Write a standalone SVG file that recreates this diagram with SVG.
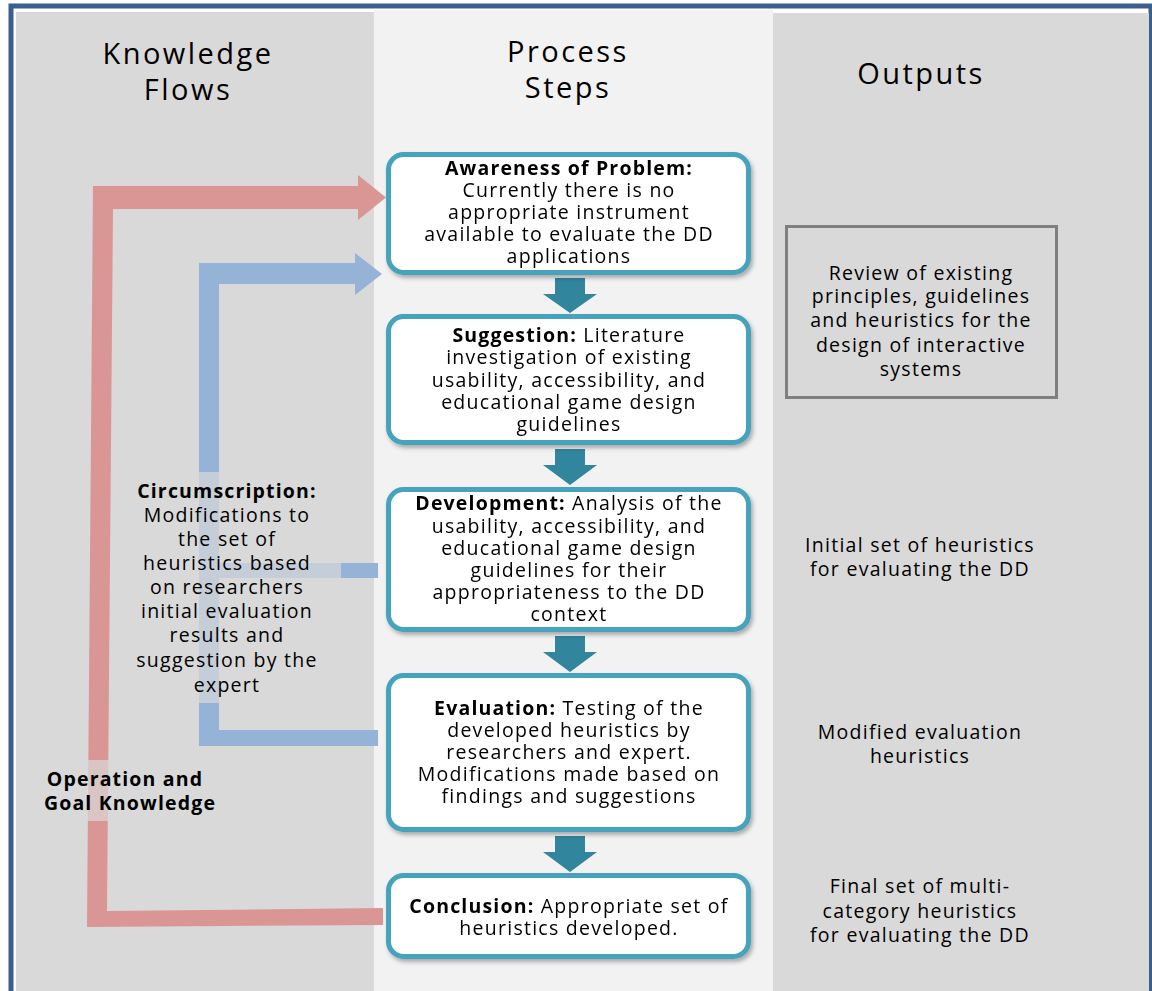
<svg xmlns="http://www.w3.org/2000/svg" width="1152" height="991" viewBox="0 0 1152 991">
<defs>
<filter id="sh" x="-10%" y="-10%" width="130%" height="130%">
<feDropShadow dx="2" dy="3" stdDeviation="2" flood-color="#000" flood-opacity="0.3"/>
</filter>
<style>
.t{font-family:"Open Sans","DejaVu Sans",sans-serif;font-size:19.5px;letter-spacing:0.065em;fill:#000;text-anchor:middle}
.h{font-family:"Open Sans","DejaVu Sans",sans-serif;font-size:29px;letter-spacing:0.085em;fill:#000;text-anchor:middle}
.b{font-weight:bold;letter-spacing:0.06em}
.box{fill:#fff;stroke:#46a3bb;stroke-width:5}
.darr{fill:#31859c}
.red{fill:#d99694}
.blue{fill:#95b3d7}
.veil{fill:#d9d9d9;opacity:0.7}
</style>
</defs>
<rect x="0" y="0" width="1152" height="991" fill="#fff"/>
<rect x="11" y="6" width="1140" height="1000" fill="#fff" stroke="#3b5f8f" stroke-width="5"/>
<rect x="16" y="12" width="358" height="979" fill="#d9d9d9"/>
<rect x="374" y="10" width="399" height="981" fill="#f2f2f2"/>
<rect x="773" y="13" width="376" height="978" fill="#d9d9d9"/>

<g id="headers">
<text class="h" x="188" y="64">Knowledge</text>
<text class="h" x="188" y="100">Flows</text>
<text class="h" x="568" y="62">Process</text>
<text class="h" x="568" y="98">Steps</text>
<text class="h" x="921" y="84">Outputs</text>
</g>

<g id="connectors">
<polygon class="red" points="93,186 358,186 358,175 386,197.5 358,220 358,209 113,209 107,911 383,908 383,925 87,927"/>
<polygon class="blue" points="199,263 355,263 355,253 382,274 355,295 355,284 219,284 219,730 378,730 378,746 199,746"/>
<rect class="blue" x="219" y="563" width="159" height="15"/>
<path class="darr" d="M555,278 h30 v16 h12 l-27,19 l-27,-19 h12 z"/>
<path class="darr" d="M555,449 h30 v16 h12 l-27,20 l-27,-20 h12 z"/>
<path class="darr" d="M555,636 h30 v16 h12 l-27,20 l-27,-20 h12 z"/>
<path class="darr" d="M555,836 h30 v16 h12 l-27,20 l-27,-20 h12 z"/>
</g>

<g id="circumscription">
<rect class="veil" x="130" y="472" width="211" height="231"/>
<text class="t" x="227" y="498"><tspan class="b">Circumscription:</tspan></text>
<text class="t" x="227" y="522">Modifications to</text>
<text class="t" x="227" y="546">the set  of</text>
<text class="t" x="227" y="570">heuristics based</text>
<text class="t" x="227" y="594">on researchers</text>
<text class="t" x="227" y="618">initial evaluation</text>
<text class="t" x="227" y="642">results and</text>
<text class="t" x="227" y="667">suggestion by the</text>
<text class="t" x="227" y="692">expert</text>
</g>

<g id="operation">
<rect class="veil" x="45" y="760" width="170" height="61"/>
<text class="t b" x="125" y="786">Operation and</text>
<text class="t b" x="130" y="810">Goal Knowledge</text>
</g>

<g id="awareness" filter="url(#sh)">
<rect class="box" x="388.5" y="154.5" width="360" height="118" rx="15"/>
<text class="t" x="569" y="175"><tspan class="b">Awareness of Problem:</tspan></text>
<text class="t" x="569" y="197">Currently there is no</text>
<text class="t" x="569" y="219">appropriate instrument</text>
<text class="t" x="569" y="241">available to evaluate the DD</text>
<text class="t" x="569" y="263">applications</text>
</g>

<g id="suggestion" filter="url(#sh)">
<rect class="box" x="388.5" y="316.5" width="360" height="126" rx="15"/>
<text class="t" x="569" y="342"><tspan class="b">Suggestion:</tspan> Literature</text>
<text class="t" x="569" y="364">investigation of existing</text>
<text class="t" x="569" y="387">usability, accessibility, and</text>
<text class="t" x="569" y="409">educational game design</text>
<text class="t" x="569" y="431">guidelines</text>
</g>

<g id="development" filter="url(#sh)">
<rect class="box" x="388.5" y="489.5" width="360" height="140" rx="15"/>
<text class="t" x="569" y="510"><tspan class="b">Development:</tspan> Analysis of the</text>
<text class="t" x="569" y="533">usability, accessibility, and</text>
<text class="t" x="569" y="555">educational game design</text>
<text class="t" x="569" y="577">guidelines for their</text>
<text class="t" x="569" y="599">appropriateness to the  DD</text>
<text class="t" x="569" y="621">context</text>
</g>

<g id="evaluation" filter="url(#sh)">
<rect class="box" x="388.5" y="675.5" width="360" height="154" rx="15"/>
<text class="t" x="569" y="715"><tspan class="b">Evaluation:</tspan> Testing of the</text>
<text class="t" x="569" y="737">developed heuristics by</text>
<text class="t" x="569" y="759">researchers and expert.</text>
<text class="t" x="569" y="781">Modifications made based on</text>
<text class="t" x="569" y="803">findings and suggestions</text>
</g>

<g id="conclusion" filter="url(#sh)">
<rect class="box" x="388.5" y="875.5" width="360" height="81" rx="15"/>
<text class="t" x="569" y="913"><tspan class="b">Conclusion:</tspan>  Appropriate set of</text>
<text class="t" x="569" y="935">heuristics developed.</text>
</g>

<g id="review">
<rect x="786.5" y="226.5" width="270" height="171" fill="none" stroke="#7f7f7f" stroke-width="3"/>
<text class="t" x="921" y="280">Review of existing</text>
<text class="t" x="921" y="303">principles, guidelines</text>
<text class="t" x="921" y="327">and heuristics for the</text>
<text class="t" x="921" y="352">design of interactive</text>
<text class="t" x="921" y="376">systems</text>
</g>

<g id="initial">
<text class="t" x="920" y="552">Initial set of heuristics</text>
<text class="t" x="920" y="576">for evaluating the DD</text>
</g>

<g id="modified">
<text class="t" x="920" y="739">Modified evaluation</text>
<text class="t" x="920" y="763">heuristics</text>
</g>

<g id="final">
<text class="t" x="920" y="893">Final set of multi-</text>
<text class="t" x="920" y="918">category heuristics</text>
<text class="t" x="920" y="942">for evaluating the DD</text>
</g>
</svg>
